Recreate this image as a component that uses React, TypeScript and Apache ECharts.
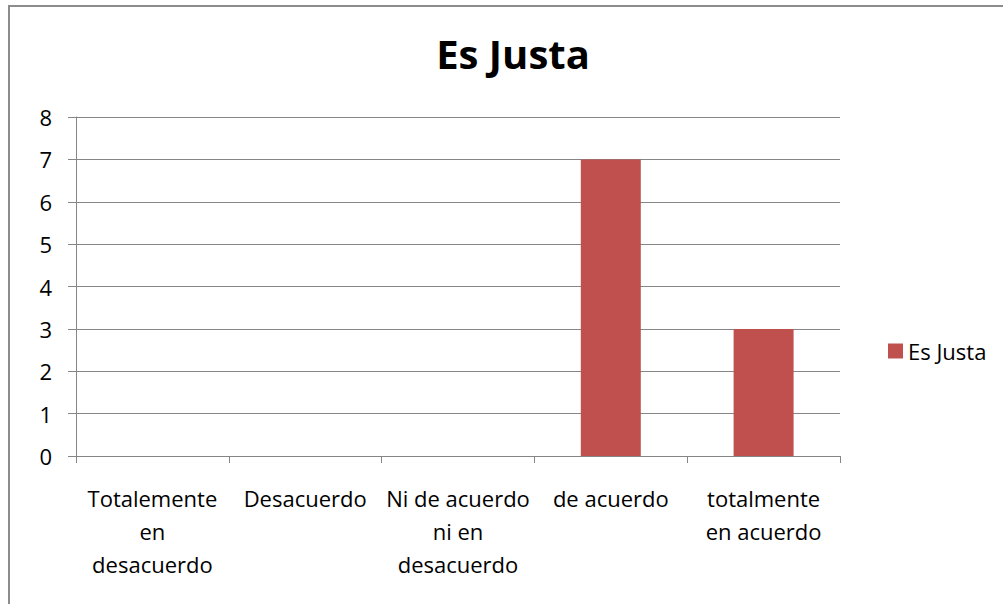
import React, { useEffect, useRef } from "react";
import * as echarts from "echarts";

const categories = [
  "Totalemente\nen\ndesacuerdo",
  "Desacuerdo",
  "Ni de acuerdo\nni en\ndesacuerdo",
  "de acuerdo",
  "totalmente\nen acuerdo",
];
const seriesName = "Es Justa";
const values = [0, 0, 0, 7, 3];
const yTicks = { min: 0, max: 8, interval: 1 };

const FONT = "'Open Sans', 'Noto Sans', sans-serif";

export default function App() {
  const ref = useRef<HTMLDivElement>(null);
  useEffect(() => {
    const chart = echarts.init(ref.current!, null, { renderer: "svg" });
    chart.setOption({
      animation: false,
      backgroundColor: "#ffffff",
      title: {
        text: "Es Justa",
        left: 508,
        textAlign: "center",
        top: 28,
        textStyle: { fontFamily: FONT, fontWeight: "bold", fontSize: 40, color: "#000" },
      },
      legend: {
        data: [seriesName],
        left: 883,
        top: 335,
        itemWidth: 15,
        itemHeight: 15,
        itemGap: 6,
        icon: "rect",
        textStyle: { fontFamily: FONT, fontSize: 22, color: "#000", padding: [0, 0, 0, 0] },
      },
      grid: { left: 76, right: 163, top: 117, bottom: 148, containLabel: false },
      xAxis: {
        type: "category",
        data: categories,
        axisLine: { lineStyle: { color: "#868686", width: 1 } },
        axisTick: { show: true, alignWithLabel: false, length: 7, lineStyle: { color: "#868686" } },
        axisLabel: {
          interval: 0,
          fontFamily: FONT,
          fontSize: 22,
          color: "#000",
          margin: 25,
          lineHeight: 33,
          align: "center",
        },
        splitLine: { show: false },
      },
      yAxis: {
        type: "value",
        min: yTicks.min,
        max: yTicks.max,
        interval: yTicks.interval,
        axisLine: { show: true, lineStyle: { color: "#868686" } },
        axisTick: { show: true, length: 8, lineStyle: { color: "#868686" } },
        axisLabel: { fontFamily: FONT, fontSize: 22, color: "#000", margin: 24 },
        splitLine: { show: true, lineStyle: { color: "#868686", width: 1 } },
      },
      series: [
        {
          name: seriesName,
          type: "bar",
          data: values,
          barWidth: 60,
          itemStyle: { color: "#C0504D" },
        },
      ],
      graphic: [
        {
          type: "rect",
          shape: { x: 9, y: 6, width: 1010, height: 610 },
          style: { fill: "none", stroke: "#8c8c8c", lineWidth: 2 },
          silent: true,
        },
      ],
    });
    return () => chart.dispose();
  }, []);
  return (
    <div
      ref={ref}
      style={{ position: "fixed", left: 0, top: 0, width: 1003, height: 604 }}
    />
  );
}
